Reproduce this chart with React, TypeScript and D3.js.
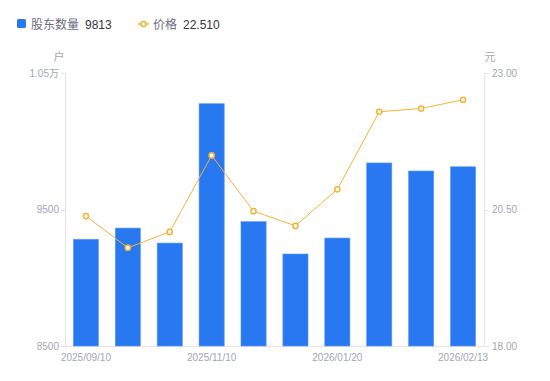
import React from "react";
import * as d3 from "d3";

const categories = [
  "2025/09/10", "2025/09/30", "2025/10/20", "2025/11/10", "2025/11/28",
  "2025/12/19", "2026/01/20", "2026/01/30", "2026/02/10", "2026/02/13",
];
const holders = [9282, 9364, 9254, 10275, 9411, 9174, 9291, 9841, 9782, 9813];
const prices = [20.38, 19.80, 20.09, 21.49, 20.47, 20.20, 20.87, 22.29, 22.35, 22.51];
const leftTicks = [8500, 9500, 10500];
const leftTickLabels = ["8500", "9500", "1.05万"];
const rightTicks = [18, 20.5, 23];
const shownLabelIdx = [0, 3, 6, 9];

const W = 550, H = 381;
const L = 65, R = 484, T = 73, B = 346;
const BLUE = "#2878F2";
const ORANGE = "#F8B133";
const TICK = "#A3A6B4";
const AXIS = "#E3E4E8";
const FONT = "'Liberation Sans', 'Noto Sans CJK SC', sans-serif";

export default function App() {
  const x = d3.scaleBand<string>().domain(categories).range([L, R]).paddingInner(0.4).paddingOuter(0.2);
  const yL = d3.scaleLinear().domain([8500, 10500]).range([B, T]);
  const yR = d3.scaleLinear().domain([18, 23]).range([B, T]);
  const line = d3.line<number>()
    .x((_, i) => (x(categories[i]) as number) + x.bandwidth() / 2)
    .y((d) => yR(d));
  return (
    <svg width={W} height={H} style={{ position: "absolute", left: 0, top: 0, fontFamily: FONT }}>
      <rect width={W} height={H} fill="#fff" />
      {/* legend */}
      <rect x={17} y={19} width={9} height={9} rx={1.5} fill={BLUE} />
      <text x={31} y={28.5} fontSize={12} fill="#6B6E7A">股东数量</text>
      <text x={85} y={28.5} fontSize={12} fill="#33353D">{holders[holders.length - 1]}</text>
      <line x1={138} x2={149} y1={24} y2={24} stroke={ORANGE} strokeWidth={1.5} />
      <circle cx={143.5} cy={24} r={2.6} fill="#fff" stroke={ORANGE} strokeWidth={1.5} />
      <text x={153} y={28.5} fontSize={12} fill="#6B6E7A">价格</text>
      <text x={183} y={28.5} fontSize={12} fill="#33353D">{prices[prices.length - 1].toFixed(3)}</text>
      {/* axis names */}
      <text x={59} y={61} fontSize={11} fill={TICK} textAnchor="middle">户</text>
      <text x={490} y={61} fontSize={11} fill={TICK} textAnchor="middle">元</text>
      {/* axes */}
      <line x1={L + 0.5} x2={L + 0.5} y1={T} y2={B} stroke={AXIS} />
      <line x1={R + 0.5} x2={R + 0.5} y1={T} y2={B} stroke={AXIS} />
      <line x1={L} x2={R} y1={B + 0.5} y2={B + 0.5} stroke={AXIS} />
      {leftTicks.map((t, i) => (
        <g key={"l" + t}>
          <line x1={L - 4} x2={L} y1={Math.round(yL(t)) + 0.5} y2={Math.round(yL(t)) + 0.5} stroke={AXIS} />
          <text x={L - 6} y={yL(t) + 3.5} fontSize={10} fill={TICK} textAnchor="end">{leftTickLabels[i]}</text>
        </g>
      ))}
      {rightTicks.map((t) => (
        <g key={"r" + t}>
          <line x1={R + 1} x2={R + 5} y1={Math.round(yR(t)) + 0.5} y2={Math.round(yR(t)) + 0.5} stroke={AXIS} />
          <text x={R + 8} y={yR(t) + 3.5} fontSize={10} fill={TICK} textAnchor="start">{t.toFixed(2)}</text>
        </g>
      ))}
      {/* bars */}
      {holders.map((v, i) => (
        <rect key={"b" + i} x={x(categories[i])} y={yL(v)} width={x.bandwidth()} height={B - yL(v)}
          fill={BLUE} stroke="#5B9AF6" strokeWidth={0.6} />
      ))}
      {/* x labels */}
      {shownLabelIdx.map((i) => (
        <text key={"x" + i} x={(x(categories[i]) as number) + x.bandwidth() / 2} y={361} fontSize={10}
          fill={TICK} textAnchor="middle">{categories[i]}</text>
      ))}
      {/* price line */}
      <path d={line(prices) || ""} fill="none" stroke={ORANGE} strokeWidth={1} />
      {prices.map((p, i) => (
        <circle key={"p" + i} cx={(x(categories[i]) as number) + x.bandwidth() / 2} cy={yR(p)} r={2.6}
          fill="#fff" stroke={ORANGE} strokeWidth={1.5} />
      ))}
    </svg>
  );
}
